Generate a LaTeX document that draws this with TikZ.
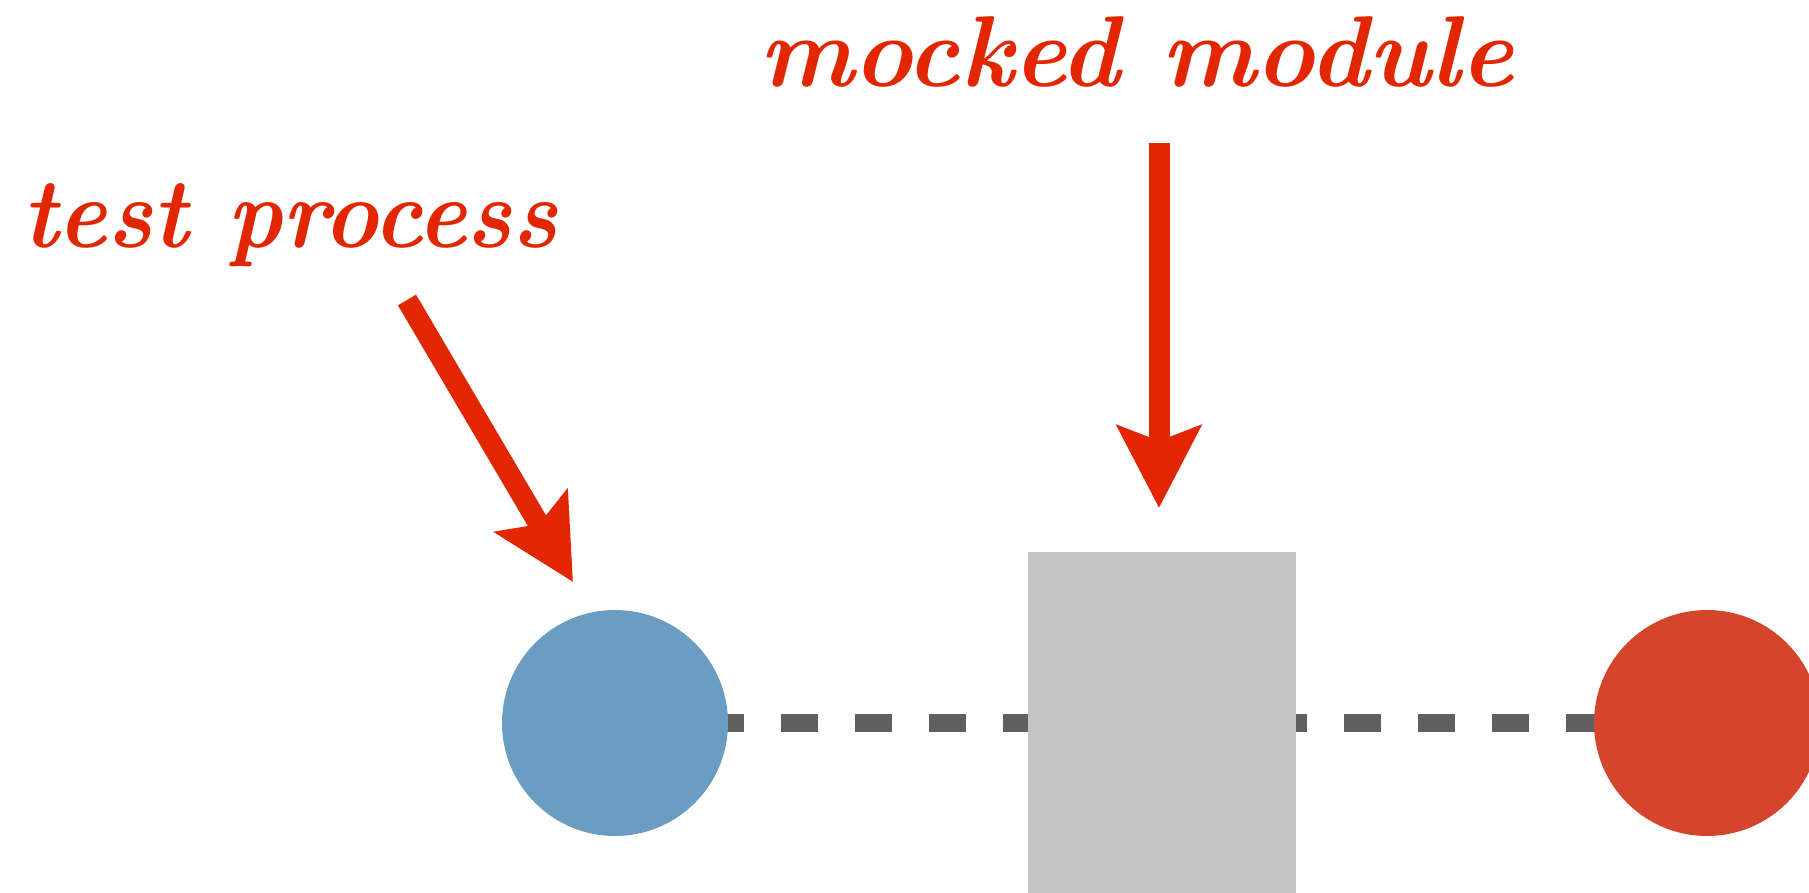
\documentclass[tikz,border=0pt]{standalone}
\usepackage{graphicx}
\usetikzlibrary{arrows.meta,backgrounds}

\definecolor{pointer}{HTML}{E12600}
\definecolor{procblue}{HTML}{6B9DC3}
\definecolor{procred}{HTML}{D5452C}
\definecolor{modgray}{HTML}{C3C3C3}
\definecolor{linkgray}{HTML}{5F5F5F}

\tikzset{
  proc/.style={circle, inner sep=0pt, outer sep=0pt, minimum size=226pt},
  modbox/.style={rectangle, fill=modgray, inner sep=0pt, outer sep=0pt,
                 minimum width=268pt, minimum height=342pt},
  note/.style={inner sep=0pt, outer sep=0pt, text=pointer, anchor=base west,
               font=\bfseries\itshape},
  pointerarrow/.style={draw=pointer, line width=21pt,
                 -{Stealth[length=82pt, width=83pt, inset=15pt]}},
  link/.style={draw=linkgray, line width=18pt, dash pattern=on 37pt off 37pt},
}

\begin{document}
\begin{tikzpicture}[x=1pt, y=-1pt]
  \useasboundingbox (0,0) rectangle (1809,893);

  % processes and the module between them
  \node[proc, fill=procblue] (test) at (615,723) {};
  \node[modbox] (mock) at (1162,723) {};
  \node[proc, fill=procred] (target) at (1707,723) {};

  % dashed links behind the shapes
  \begin{scope}[on background layer]
    \draw[link, dash phase=56pt] (test.center) -- (mock.center);
    \draw[link, dash phase=40pt] (mock.center) -- (target.center);
  \end{scope}

  % labels
  \node[note] (mocklabel) at (759,87)
    {\resizebox{754pt}{70pt}{mocked module}};
  \node[note] (testlabel) at (22,248)
    {\resizebox{535pt}{64pt}{test process}};

  % pointers from the labels
  \coordinate (testfrom) at (407,300);
  \coordinate (testtip)  at (573,582);
  \coordinate (mockfrom) at (1159,143);
  \coordinate (mocktip)  at (1159,508);
  \draw[pointerarrow] (testfrom) -- (testtip);
  \draw[pointerarrow] (mockfrom) -- (mocktip);
\end{tikzpicture}
\end{document}
